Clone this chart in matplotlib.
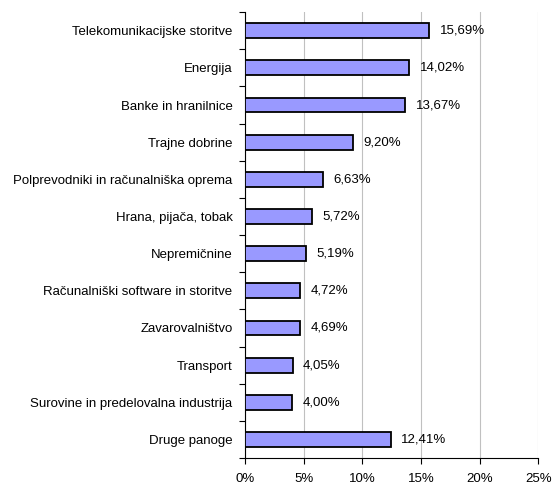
import numpy as np
import matplotlib.pyplot as plt
from matplotlib.ticker import FuncFormatter

plt.rcParams['font.family'] = ['Liberation Sans', 'DejaVu Sans']

panoge = ["Telekomunikacijske storitve", "Energija", "Banke in hranilnice",
          "Trajne dobrine", "Polprevodniki in računalniška oprema",
          "Hrana, pijača, tobak", "Nepremičnine",
          "Računalniški software in storitve", "Zavarovalništvo", "Transport",
          "Surovine in predelovalna industrija", "Druge panoge"]
delezi = [15.69, 14.02, 13.67, 9.20, 6.63, 5.72, 5.19, 4.72, 4.69, 4.05, 4.00, 12.41]

fig = plt.figure(figsize=(5.52, 4.87), dpi=100)
ax = fig.add_axes([0.444, 0.0595, 0.531, 0.9155])

y = np.arange(len(panoge))
ax.barh(y, delezi, height=0.4, color='#9999ff', edgecolor='black', linewidth=1.3, zorder=3)

for yi, v in zip(y, delezi):
    ax.text(v + 0.9, yi, f"{v:.2f}%".replace('.', ','), va='center', ha='left', fontsize=9.5)

ax.set_ylim(len(panoge) - 0.5, -0.5)
ax.set_xlim(0, 25)
ax.set_xticks([0, 5, 10, 15, 20, 25])
ax.xaxis.set_major_formatter(FuncFormatter(lambda v, p: f"{int(v)}%"))
ax.set_yticks(y)
ax.set_yticklabels(panoge, fontsize=9.5)
ax.set_yticks(np.arange(len(panoge) + 1) - 0.5, minor=True)
ax.tick_params(axis='y', which='major', length=0, pad=9)
ax.tick_params(axis='y', which='minor', length=4, width=0.8)
ax.tick_params(axis='x', labelsize=9.5, length=4, width=0.8, pad=7)
ax.grid(axis='x', color='#c0c0c0', linewidth=0.8, zorder=0)
ax.spines['top'].set_visible(False)
ax.spines['right'].set_visible(False)

fig.savefig("out.png", dpi=100)
